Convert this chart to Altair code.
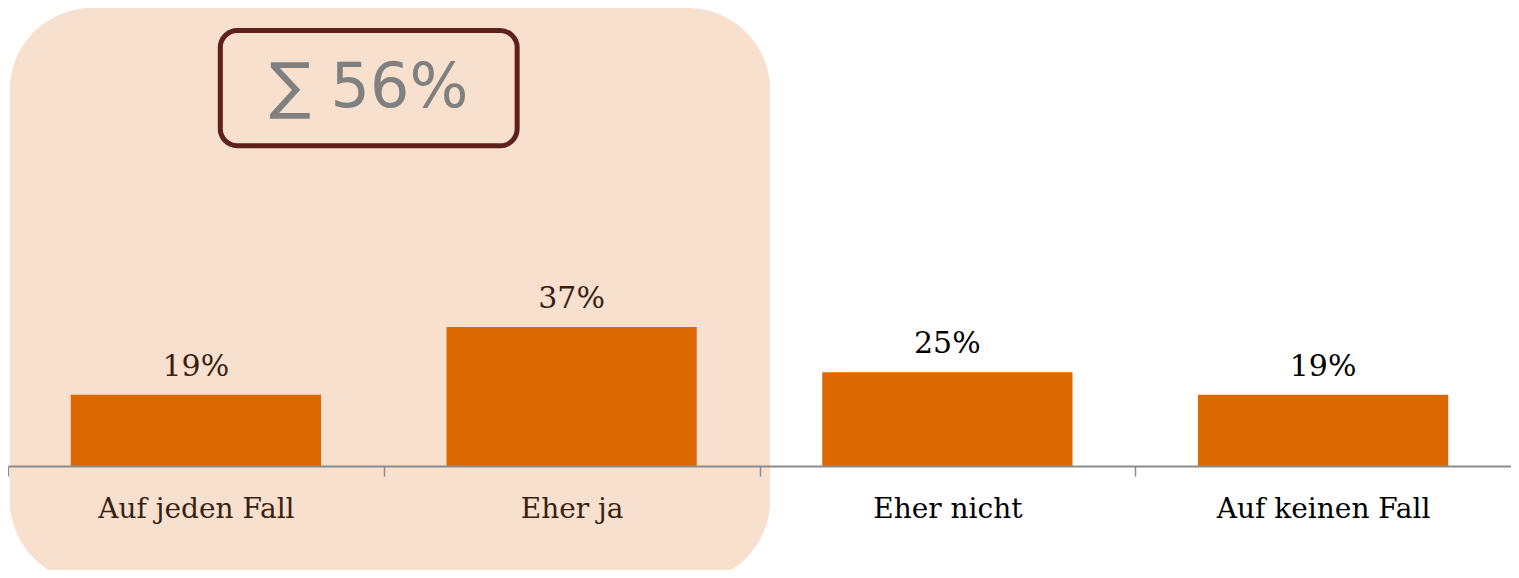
import altair as alt
import pandas as pd

categories = ["Auf jeden Fall", "Eher ja", "Eher nicht", "Auf keinen Fall"]
values = [19, 37, 25, 19]
highlight = [True, True, False, False]

BAR = "#DC6900"
PEACH = "#F7E0CE"
BROWN_TXT = "#3B1F12"
BOX = "#5E211E"

df = pd.DataFrame({
    "cat": categories,
    "value": values,
    "group": ["pro" if h else "contra" for h in highlight],
    "label": [f"{v}%" for v in values],
})

n_hl = sum(highlight)
total_hl = sum(v for v, h in zip(values, highlight) if h)
hl_cats = [c for c, h in zip(categories, highlight) if h]

W = 1503
H = 458
STEP = W / len(categories)
YMAX = 122
x_band = alt.Scale(domain=categories, paddingInner=0.334, paddingOuter=0.167)
y_scale = alt.Scale(domain=[0, YMAX], nice=False)
x_lin = alt.Scale(domain=[0, len(categories)], nice=False, zero=False)

# highlight background (spans the highlighted categories, in band-index units)
bg_df = pd.DataFrame({"x0": [0.005], "x1": [n_hl + 0.028], "y0": [YMAX], "y1": [-31]})
bg = alt.Chart(bg_df).mark_rect(color=PEACH, cornerRadius=82).encode(
    x=alt.X("x0:Q", scale=x_lin, axis=None),
    x2="x1:Q",
    y=alt.Y("y0:Q", scale=y_scale, axis=None),
    y2="y1:Q",
)

# sum box
box_df = pd.DataFrame({"x0": [0.565], "x1": [1.355], "y0": [116], "y1": [85.3],
                       "xm": [0.96], "ym": [100.6], "txt": [f"\u2211 {total_hl}%"]})
box = alt.Chart(box_df).mark_rect(fill=None, fillOpacity=0, stroke=BOX, strokeWidth=5, cornerRadius=17).encode(
    x=alt.X("x0:Q", scale=x_lin, axis=None),
    x2="x1:Q",
    y=alt.Y("y0:Q", scale=y_scale, axis=None),
    y2="y1:Q",
)
box_txt = alt.Chart(box_df).mark_text(font="DejaVu Sans", fontSize=62, color="#808080",
                                      baseline="middle", align="center").encode(
    x=alt.X("xm:Q", scale=x_lin, axis=None),
    y=alt.Y("ym:Q", scale=y_scale, axis=None),
    text="txt:N",
)

hl_list = "[" + ",".join(f"'{c}'" for c in hl_cats) + "]"
bars = alt.Chart(df).mark_bar(color=BAR).encode(
    x=alt.X("cat:N", scale=x_band, sort=categories, title=None,
            axis=alt.Axis(labelAngle=0, domainColor="#8C8C8C", domainWidth=2,
                          tickColor="#8C8C8C", tickWidth=1.5, tickSize=10,
                          tickOffset=-STEP / 2, labelOffset=STEP / 2,
                          labelFont="DejaVu Serif", labelFontSize=28, labelBaseline="alphabetic",
                          labelPadding=41, labelLimit=0, labelOverlap=False, zindex=1,
                          labelColor={"expr": f"indexof({hl_list}, datum.value) >= 0 ? '{BROWN_TXT}' : '#000000'"})),
    y=alt.Y("value:Q", scale=y_scale, axis=None),
)

labels = alt.Chart(df).mark_text(font="DejaVu Serif", fontSize=30, baseline="alphabetic",
                                 align="center", dy=-19).encode(
    x=alt.X("cat:N", scale=x_band, sort=categories, axis=None),
    y=alt.Y("value:Q", scale=y_scale, axis=None),
    text="label:N",
    color=alt.Color("group:N", scale=alt.Scale(domain=["pro", "contra"], range=[BROWN_TXT, "#000000"]),
                    legend=None),
)

chart = alt.layer(bg, box, box_txt, bars, labels).resolve_scale(x="independent").properties(
    width=W, height=H,
    autosize=alt.AutoSizeParams(type="none"),
    padding={"left": 0, "top": 0, "right": 0, "bottom": 104},
).configure_view(stroke=None)

chart.save("out.html", embed_options={"renderer": "svg", "actions": False})
